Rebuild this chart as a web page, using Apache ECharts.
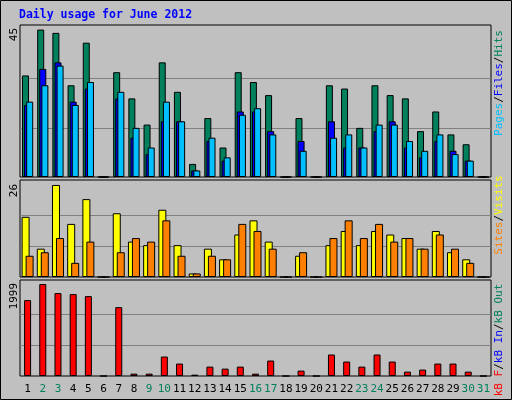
<!DOCTYPE html>
<html><head><meta charset="utf-8">
<script src="https://cdn.jsdelivr.net/npm/echarts@6/dist/echarts.min.js"></script>
<style>html,body{margin:0;padding:0;background:#c0c0c0}</style>
</head><body>
<div id="charts" style="width:512px;height:400px"></div>
<script>
var days = ['1','2','3','4','5','6','7','8','9','10','11','12','13','14','15','16','17','18','19','20','21','22','23','24','25','26','27','28','29','30','31'];
var weekend = ['2','3','9','10','16','17','23','24','30','31'];
var hits  = [31,45,44,28,41,0,32,24,16,35,26,4,18,9,32,29,25,0,18,0,28,27,15,28,25,24,14,20,13,10,0];
var files = [22,33,35,23,27,0,24,12,7,17,17,2,11,5,20,20,14,0,11,0,17,9,9,14,17,9,6,11,8,5,0];
var pages = [23,28,34,22,29,0,26,15,9,23,17,2,12,6,19,21,13,0,8,0,12,13,9,16,16,11,8,13,7,5,0];
var visits = [17,8,26,15,22,0,18,10,9,19,9,1,8,5,12,16,10,0,6,0,9,13,9,13,12,11,8,13,7,5,0];
var sites  = [6,7,11,4,10,0,7,11,10,16,6,1,6,5,15,13,8,0,7,0,11,16,11,15,10,11,8,12,8,4,0];
var kbytes = [1649,1999,1802,1780,1736,0,1496,51,51,423,270,29,204,160,204,51,336,0,117,0,467,314,204,467,314,95,139,270,270,95,0];
var gridLines = [[15, 30], [26/3, 52/3], [1999/3, 3998/3]];

var myChart = echarts.init(document.getElementById('charts'));
var font = '"DejaVu Sans Mono", monospace';
var grids = [
    {left:20, right:21, top:25, height:152},
    {left:20, right:21, top:180, height:97},
    {left:20, right:21, top:280, height:96}
];
var maxes = [46.4, 27.4, 2086];
function xAxis(i){
    return {
        type:'category', gridIndex:i, data:days,
        axisLine:{show:false}, axisTick:{show:false},
        axisLabel:{show:i==2, interval:0, fontFamily:font, fontSize:11, margin:8,
            color:function(v){ return weekend.indexOf(v)>=0 ? '#00805c' : '#000'; }}
    };
}
function yAxis(i){
    return {
        type:'value', gridIndex:i, min:0, max:maxes[i],
        axisLabel:{show:false}, axisLine:{show:false}, axisTick:{show:false},
        splitLine:{show:false}
    };
}
function bar(name, data, color, xi, w, gap, lines){
    var s = {
        name:name, type:'bar', xAxisIndex:xi, yAxisIndex:xi, data:data,
        barWidth:w, barGap:gap, animation:false,
        itemStyle:{color:color, borderColor:'#000', borderWidth:1}
    };
    if (lines) {
        s.markLine = {silent:true, symbol:'none', label:{show:false}, z:0,
            lineStyle:{color:'#808080', type:'solid', width:1},
            data:lines.map(function(v){ return {yAxis:v}; })};
    }
    return s;
}
option = {
    backgroundColor:'#c0c0c0',
    grid: grids.map(function(g){ return Object.assign({show:true, backgroundColor:'#c0c0c0', borderColor:'#000', borderWidth:1}, g); }),
    xAxis:[xAxis(0), xAxis(1), xAxis(2)],
    yAxis:[yAxis(0), yAxis(1), yAxis(2)],
    series:[
        bar('Hits', hits, '#00805c', 0, 7, '-70%', gridLines[0]),
        bar('Files', files, '#0000ff', 0, 7, '-70%'),
        bar('Pages', pages, '#00c0ff', 0, 7, '-70%'),
        bar('Visits', visits, '#ffff00', 1, 8, '-50%', gridLines[1]),
        bar('Sites', sites, '#ff8000', 1, 8, '-50%'),
        bar('KBytes', kbytes, '#ff0000', 2, 7, '0%', gridLines[2])
    ],
    graphic:[
        {type:'rect', shape:{x:0.5, y:0.5, width:511, height:399}, style:{fill:null, stroke:'#000', lineWidth:1}},
        {type:'text', x:19, y:9, style:{text:'Daily usage for June 2012', font:'bold 11.5px '+font, fill:'#0000ff'}},
        {type:'text', x:9, y:28, rotation:Math.PI/2, style:{text:'45', font:'11px '+font, fill:'#000', align:'right', verticalAlign:'top'}},
        {type:'text', x:9, y:184, rotation:Math.PI/2, style:{text:'26', font:'11px '+font, fill:'#000', align:'right', verticalAlign:'top'}},
        {type:'text', x:9, y:283, rotation:Math.PI/2, style:{text:'1999', font:'11px '+font, fill:'#000', align:'right', verticalAlign:'top'}},
        {type:'text', x:494, y:83, rotation:Math.PI/2, style:{font:'11px '+font, align:'center', verticalAlign:'top',
            text:'{p|Pages}{s|/}{f|Files}{s|/}{h|Hits}',
            rich:{p:{fill:'#00c0ff'}, f:{fill:'#0000ff'}, h:{fill:'#00805c'}, s:{fill:'#000'}}}},
        {type:'text', x:494, y:215, rotation:Math.PI/2, style:{font:'11px '+font, align:'center', verticalAlign:'top',
            text:'{p|Sites}{s|/}{h|Visits}',
            rich:{p:{fill:'#ff8000'}, h:{fill:'#ffff00'}, s:{fill:'#000'}}}},
        {type:'text', x:494, y:340, rotation:Math.PI/2, style:{font:'11px '+font, align:'center', verticalAlign:'top',
            text:'{r|kB F}{s|/}{b|kB In}{s|/}{g|kB Out}',
            rich:{r:{fill:'#ff0000'}, b:{fill:'#0000ff'}, g:{fill:'#00805c'}, s:{fill:'#000'}}}}
    ]
};
myChart.setOption(option);
</script>
</body></html>
